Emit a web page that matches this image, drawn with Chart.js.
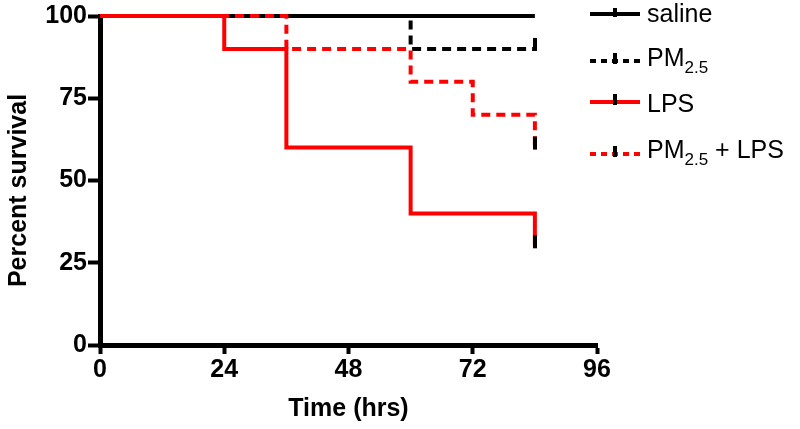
<!DOCTYPE html>
<html><head><meta charset="utf-8">
<script src="https://cdn.jsdelivr.net/npm/chart.js@4"></script>
<style>
html,body{margin:0;padding:0;background:#fff;}
#wrap{position:relative;width:800px;height:429px;overflow:hidden;}
#c{position:absolute;left:0;top:0;}
.leg{position:absolute;left:590px;width:210px;height:40px;font-family:"Liberation Sans",Arial,sans-serif;font-size:25px;line-height:25px;color:#000;white-space:nowrap;}
.leg canvas{position:absolute;left:0;}
.leg span{position:absolute;left:57px;}
.leg sub{font-size:17px;line-height:0;vertical-align:baseline;position:relative;top:7px;}
</style></head>
<body>
<div id="wrap">
<canvas id="c" width="800" height="429"></canvas>
<div id="legend"></div>
</div>
<script>
// ---- data ----
const seriesNames = ['saline', 'PM2.5', 'LPS', 'PM2.5 + LPS'];
const salineTime = [0, 84];
const salineSurv = [100, 100];
const pmTime = [0, 60, 84];
const pmSurv = [100, 90, 90];
const lpsTime = [0, 24, 36, 60, 84];
const lpsSurv = [100, 90, 60, 40, 30];
const pmLpsTime = [0, 36, 60, 72, 84];
const pmLpsSurv = [100, 90, 80, 70, 60];
const censorTime = [84, 84, 84];
const censorSurv = [90, 30, 60];
const xTicks = [0, 24, 48, 72, 96];
const yTicks = [0, 25, 50, 75, 100];

const FONT = '"Liberation Sans", Arial, sans-serif';
const pts = (t, s) => t.map((x, i) => ({x: x, y: s[i]}));

// censor tick mark image (vertical tick, mostly above the point)
function tickImg() {
  const cv = document.createElement('canvas');
  cv.width = 4; cv.height = 26;
  const g = cv.getContext('2d');
  g.fillStyle = '#000';
  g.fillRect(0, 2, 4, 13);
  return cv;
}

const styles = [
  {color: '#000000', dash: [], order: 4},
  {color: '#000000', dash: [9, 6], order: 3},
  {color: '#ff0000', dash: [], order: 1},
  {color: '#ff0000', dash: [9, 6], order: 2}
];
const seriesData = [pts(salineTime, salineSurv), pts(pmTime, pmSurv), pts(lpsTime, lpsSurv), pts(pmLpsTime, pmLpsSurv)];

const datasets = seriesData.map((d, i) => ({
  label: seriesNames[i],
  data: d,
  stepped: 'before',
  borderColor: styles[i].color,
  borderWidth: 4,
  borderDash: styles[i].dash,
  borderCapStyle: 'butt',
  pointRadius: 0,
  fill: false,
  order: styles[i].order,
  clip: false
}));
datasets.push({
  label: 'censored',
  data: pts(censorTime, censorSurv),
  showLine: false,
  pointStyle: tickImg(),
  pointRadius: 6,
  order: 0,
  clip: false
});

// shift the y-axis title slightly downward, as in the reference
const titleShift = {
  id: 'titleShift',
  afterLayout(chart) {
    const sc = chart.scales.y;
    if (sc._shiftPatched) return;
    const orig = sc.drawTitle;
    sc.drawTitle = function () {
      const ctx = this.ctx;
      ctx.save();
      ctx.translate(0, 10);
      orig.apply(this, arguments);
      ctx.restore();
    };
    sc._shiftPatched = true;
  }
};

new Chart(document.getElementById('c'), {
  type: 'line',
  data: {datasets: datasets},
  plugins: [titleShift],
  options: {
    responsive: false,
    animation: false,
    layout: {padding: {left: 4, right: 203, top: 15, bottom: 5}},
    plugins: {legend: {display: false}, tooltip: {enabled: false}},
    scales: {
      x: {
        type: 'linear', min: 0, max: 96,
        afterBuildTicks: s => { s.ticks = xTicks.map(v => ({value: v})); },
        grid: {drawOnChartArea: false, drawTicks: true, tickLength: 9, tickWidth: 4, tickColor: '#000'},
        border: {display: true, color: '#000', width: 5},
        ticks: {color: '#000', font: {family: FONT, size: 25, weight: 'bold'}, padding: 1, maxRotation: 0},
        title: {display: true, text: 'Time (hrs)', color: '#000', font: {family: FONT, size: 25, weight: 'bold'}, padding: {top: 4, bottom: 0}},
        afterFit: s => { s.height = 429 - 345 - 5; }
      },
      y: {
        type: 'linear', min: 0, max: 100,
        afterBuildTicks: s => { s.ticks = yTicks.map(v => ({value: v})); },
        grid: {drawOnChartArea: false, drawTicks: true, tickLength: 12, tickWidth: 4, tickColor: '#000'},
        border: {display: true, color: '#000', width: 5},
        ticks: {color: '#000', font: {family: FONT, size: 25, weight: 'bold'}, padding: 1},
        title: {display: true, text: 'Percent survival', color: '#000', font: {family: FONT, size: 25, weight: 'bold'}, padding: {top: 0, bottom: 0}},
        afterFit: s => { s.width = 100 - 4; }
      }
    }
  }
});

// ---- HTML legend ----
const legendRows = [
  {lineY: 14, textTop: 1, html: 'saline'},
  {lineY: 61, textTop: 45, html: 'PM<sub>2.5</sub>'},
  {lineY: 102, textTop: 91, html: 'LPS'},
  {lineY: 154, textTop: 137, html: 'PM<sub>2.5</sub> + LPS'}
];
const legend = document.getElementById('legend');
legendRows.forEach((r, i) => {
  const div = document.createElement('div');
  div.className = 'leg';
  div.style.top = '0px';
  const cv = document.createElement('canvas');
  cv.width = 52; cv.height = 20;
  cv.style.top = (r.lineY - 10) + 'px';
  const g = cv.getContext('2d');
  g.strokeStyle = styles[i].color;
  g.lineWidth = 4;
  g.setLineDash(styles[i].dash.length ? [6, 5] : []);
  g.beginPath(); g.moveTo(0, 10); g.lineTo(50, 10); g.stroke();
  g.fillStyle = '#000';
  g.fillRect(23, i === 0 ? 4 : 2, 4, i === 0 ? 9 : 11);
  div.appendChild(cv);
  const sp = document.createElement('span');
  sp.style.top = r.textTop + 'px';
  sp.innerHTML = r.html;
  div.appendChild(sp);
  legend.appendChild(div);
});
</script>
</body></html>
